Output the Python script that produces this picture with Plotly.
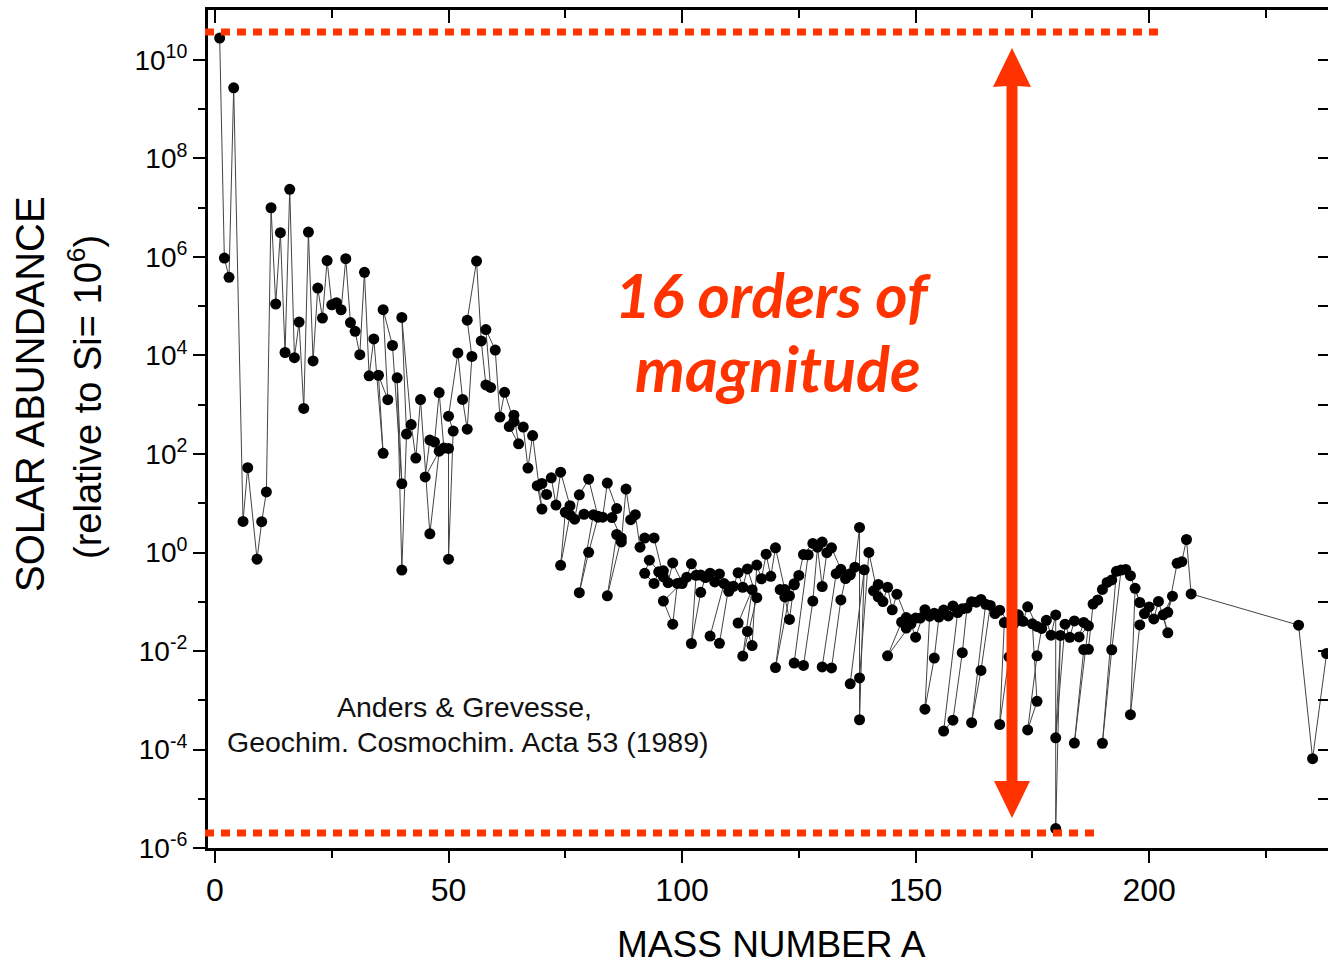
import plotly.graph_objects as go

# ---- data: solar-system isotopic abundances (Si = 1e6), listed element by element ----
mass_number = [
    1, 2, 3, 4, 6, 7, 9, 10, 11, 12, 13, 14, 15, 16, 17, 18, 19, 20, 21, 22, 23,
    24, 25, 26, 27, 28, 29, 30, 31, 32, 33, 34, 36, 35, 37, 36, 38, 40, 39, 40, 41,
    40, 42, 43, 44, 46, 48, 45, 46, 47, 48, 49, 50, 50, 51, 50, 52, 53, 54, 55,
    54, 56, 57, 58, 59, 58, 60, 61, 62, 64, 63, 65, 64, 66, 67, 68, 70, 69, 71,
    70, 72, 73, 74, 76, 75, 74, 76, 77, 78, 80, 82, 79, 81, 78, 80, 82, 83, 84, 86,
    85, 87, 84, 86, 87, 88, 89, 90, 91, 92, 94, 96, 93,
    92, 94, 95, 96, 97, 98, 100, 96, 98, 99, 100, 101, 102, 104, 103,
    102, 104, 105, 106, 108, 110, 107, 109, 106, 108, 110, 111, 112, 113, 114, 116,
    113, 115, 112, 114, 115, 116, 117, 118, 119, 120, 122, 124, 121, 123,
    120, 122, 123, 124, 125, 126, 128, 130, 127,
    124, 126, 128, 129, 130, 131, 132, 134, 136, 133,
    130, 132, 134, 135, 136, 137, 138, 138, 139, 136, 138, 140, 142, 141,
    142, 143, 144, 145, 146, 148, 150, 144, 147, 148, 149, 150, 152, 154, 151, 153,
    152, 154, 155, 156, 157, 158, 160, 159, 156, 158, 160, 161, 162, 163, 164, 165,
    162, 164, 166, 167, 168, 170, 169, 168, 170, 171, 172, 173, 174, 176, 175, 176,
    174, 176, 177, 178, 179, 180, 180, 181, 180, 182, 183, 184, 186, 185, 187,
    184, 186, 187, 188, 189, 190, 192, 191, 193, 190, 192, 194, 195, 196, 198, 197,
    196, 198, 199, 200, 201, 202, 204, 203, 205, 204, 206, 207, 208, 209,
    232, 235, 238,
]

abundance = [
    2.79e10, 9.5e5, 3.86e5, 2.72e9, 4.28, 52.8, 0.73, 4.22, 17.0, 9.99e6, 1.11e5,
    3.12e6, 1.15e4, 2.37e7, 9040, 4.76e4, 843, 3.20e6, 7770, 2.34e5, 5.74e4,
    8.48e5, 1.07e5, 1.18e5, 8.49e4, 9.22e5, 4.67e4, 3.10e4, 1.04e4,
    4.89e5, 3860, 2.17e4, 103, 3970, 1270, 8.5e4, 1.6e4, 25, 3516, 0.44, 254,
    5.92e4, 395, 82.5, 1275, 2.4, 114, 34.2, 192, 175, 1771, 132, 130, 0.73, 292,
    587, 1.13e4, 1283, 319, 9550,
    5.22e4, 8.25e5, 1.98e4, 2520, 2250, 3.36e4, 1.29e4, 562, 1791, 456, 361, 161,
    612, 352, 51.7, 237, 7.6, 22.7, 15.1,
    25.3, 32.9, 9.2, 42.8, 8.9, 6.56, 0.55, 5.8, 4.74, 14.8, 30.8, 5.42, 5.98, 5.82,
    0.153, 1.01, 5.2, 5.2, 25.7, 7.8,
    5.12, 1.97, 0.132, 2.32, 1.64, 19.4, 4.64, 5.87, 1.28, 1.96, 1.98, 0.32, 0.698,
    0.378, 0.236, 0.406, 0.425, 0.244, 0.615, 0.246,
    0.103, 0.035, 0.236, 0.234, 0.316, 0.588, 0.348, 0.344,
    0.0142, 0.155, 0.310, 0.380, 0.368, 0.163, 0.252, 0.234,
    0.0201, 0.0143, 0.201, 0.206, 0.388, 0.197, 0.463, 0.121,
    0.0079, 0.176, 0.037, 0.025, 0.0129, 0.555, 0.293, 0.925, 0.328, 1.245, 0.177, 0.221,
    0.177, 0.132,
    0.0046, 0.125, 0.0437, 0.232, 0.343, 0.911, 1.524, 1.626, 0.90,
    0.0057, 0.0051, 0.103, 1.28, 0.204, 0.99, 1.245, 0.456, 0.371, 0.372,
    0.00476, 0.00453, 0.109, 0.296, 0.353, 0.504, 3.22, 0.000402, 0.4456,
    0.00216, 0.00284, 1.005, 0.126, 0.1669,
    0.2246, 0.1008, 0.197, 0.0687, 0.1423, 0.0477, 0.0467,
    0.0080, 0.0387, 0.0292, 0.0356, 0.0191, 0.0689, 0.0586, 0.0465, 0.0508,
    0.00066, 0.0072, 0.0488, 0.0676, 0.0516, 0.082, 0.0721, 0.0603,
    0.000237, 0.000394, 0.00922, 0.0745, 0.1005, 0.0982, 0.111, 0.0889,
    0.000351, 0.00404, 0.0843, 0.0576, 0.0672, 0.0374, 0.0378,
    0.000322, 0.00756, 0.0354, 0.0543, 0.040, 0.0788, 0.0315, 0.0357, 0.00095,
    0.00025, 0.0080, 0.0287, 0.042, 0.021, 0.054, 2.48e-6, 0.0207,
    0.000173, 0.035, 0.019, 0.0408, 0.038, 0.0193, 0.0324,
    0.000135, 0.0107, 0.0108, 0.0898, 0.109, 0.178, 0.277, 0.247, 0.414,
    0.000134, 0.0106, 0.441, 0.453, 0.339, 0.0965, 0.187,
    0.00051, 0.0339, 0.0574, 0.0785, 0.0448, 0.1015, 0.0234, 0.0543, 0.1297,
    0.0611, 0.602, 0.650, 1.837, 0.144,
    0.0335, 6.5e-5, 0.0089,
]

x_major = [0, 50, 100, 150, 200]
x_minor = [25, 75, 125, 175, 225]
y_major_exp = [-6, -4, -2, 0, 2, 4, 6, 8, 10]
y_minor_exp = [-5, -3, -1, 1, 3, 5, 7, 9]

# ---- layout geometry (pixels) ----
W, H = 1328, 969
L, R, T, B = 208, 1328, 10, 848
X_RANGE = [-1.5, 238.3]
Y_RANGE = [-6, 11.015]

def px(xp):
    return (xp - L) / (R - L)

def py(yp):
    return (B - yp) / (B - T)

RED = "#ff3300"
FONT = "Liberation Sans, Arial, sans-serif"

fig = go.Figure()
fig.add_trace(go.Scatter(
    x=mass_number, y=abundance, mode="lines+markers",
    line=dict(color="#444444", width=1),
    marker=dict(color="black", size=11, line=dict(width=0)),
    showlegend=False, hoverinfo="skip",
))
# empty trace to activate the mirrored top/right axes
fig.add_trace(go.Scatter(x=[], y=[], xaxis="x2", yaxis="y2", showlegend=False))

fig.update_layout(
    width=W, height=H,
    margin=dict(l=L, r=W - R, t=T, b=H - B),
    paper_bgcolor="white", plot_bgcolor="white",
    font=dict(family=FONT, color="black"),
    xaxis=dict(
        range=X_RANGE, showgrid=False, zeroline=False,
        showline=True, linecolor="black", linewidth=3,
        tickmode="array", tickvals=x_major, ticktext=[str(v) for v in x_major],
        ticks="outside", ticklen=12, tickwidth=2, tickcolor="black",
        tickfont=dict(size=32, family=FONT),
        minor=dict(tickmode="array", tickvals=x_minor, ticks="outside",
                   ticklen=7, tickwidth=2, tickcolor="black"),
    ),
    yaxis=dict(
        type="log", range=Y_RANGE, showgrid=False, zeroline=False,
        showline=True, linecolor="black", linewidth=3,
        tickmode="array", tickvals=[10.0 ** e for e in y_major_exp],
        ticktext=["10<sup>%d</sup>" % e for e in y_major_exp],
        ticks="outside", ticklen=12, tickwidth=2, tickcolor="black",
        tickfont=dict(size=28, family=FONT),
        minor=dict(tickmode="array", tickvals=[10.0 ** e for e in y_minor_exp],
                   ticks="outside", ticklen=7, tickwidth=2, tickcolor="black"),
    ),
    xaxis2=dict(
        overlaying="x", side="top", anchor="y", range=X_RANGE,
        showgrid=False, zeroline=False, showline=True, linecolor="black", linewidth=3,
        tickmode="array", tickvals=x_major, showticklabels=False,
        ticks="inside", ticklen=13, tickwidth=2, tickcolor="black",
        minor=dict(tickmode="array", tickvals=x_minor, ticks="inside",
                   ticklen=8, tickwidth=2, tickcolor="black"),
    ),
    yaxis2=dict(
        overlaying="y", side="right", anchor="x", type="log", range=Y_RANGE,
        showgrid=False, zeroline=False, showline=True, linecolor="black", linewidth=3,
        tickmode="array", tickvals=[10.0 ** e for e in y_major_exp + y_minor_exp],
        showticklabels=False,
        ticks="inside", ticklen=10, tickwidth=2, tickcolor="black",
    ),
)

# dotted limit lines
fig.add_shape(type="line", xref="paper", yref="paper",
              x0=px(205), x1=px(1160), y0=py(32), y1=py(32),
              line=dict(color=RED, width=7, dash="9px,7px"))
fig.add_shape(type="line", xref="paper", yref="paper",
              x0=px(205), x1=px(1100), y0=py(833), y1=py(833),
              line=dict(color=RED, width=7, dash="9px,7px"))

# double-headed arrow
ax = 1012
pts = [(ax - 5.5, 86), (ax - 19, 87), (ax, 48), (ax + 19, 87), (ax + 5.5, 86),
       (ax + 5.5, 781), (ax + 18, 781), (ax, 818), (ax - 18, 781), (ax - 5.5, 781)]
path = "M " + " L ".join("%.5f,%.5f" % (px(a), py(b)) for a, b in pts) + " Z"
fig.add_shape(type="path", xref="paper", yref="paper", path=path,
              fillcolor=RED, line=dict(color=RED, width=0))

# annotations
def note(text, xp, yp, size, color="black", family=FONT, angle=0):
    fig.add_annotation(text=text, xref="paper", yref="paper", x=px(xp), y=py(yp),
                       xanchor="center", yanchor="middle", showarrow=False,
                       textangle=angle, font=dict(size=size, color=color, family=family))

note("<b><i>16 orders of</i></b>", 773, 294, 62, RED, "Lato, Open Sans, sans-serif")
note("<b><i>magnitude</i></b>", 778, 367, 63, RED, "Lato, Open Sans, sans-serif")
note("Anders &amp; Grevesse,", 464, 707, 28.5, "#111")
note("Geochim. Cosmochim. Acta 53 (1989)", 468, 742, 28.5, "#111")
note("MASS NUMBER A", 771, 945, 37)
note("SOLAR ABUNDANCE", 30, 394, 40, angle=-90)
note("(relative to Si= 10<sup>6</sup>)", 85, 397, 38, angle=-90)

fig.write_html("out.html")
